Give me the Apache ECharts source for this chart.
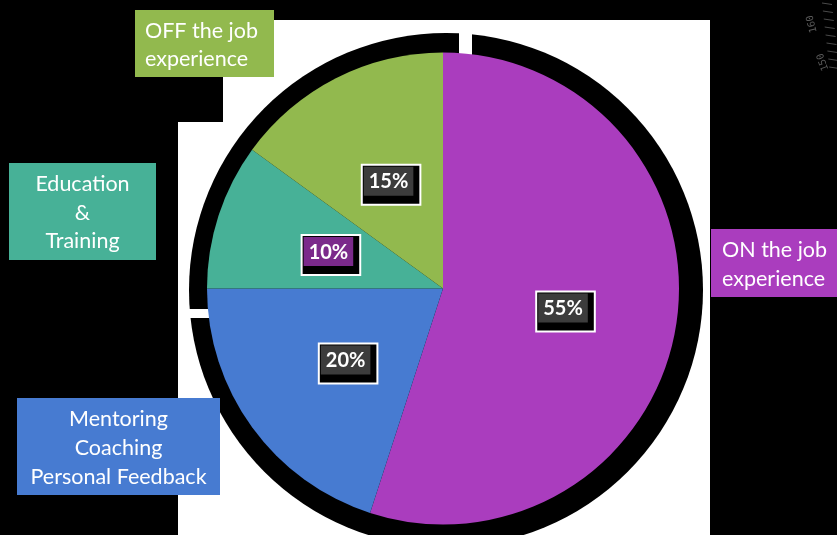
<!DOCTYPE html>
<html><head><meta charset="utf-8">
<script src="https://cdn.jsdelivr.net/npm/echarts/dist/echarts.min.js"></script>
<style>html,body{margin:0;padding:0;background:#000}#c{width:837px;height:535px}</style>
</head><body><div id="c"></div>
<script>
const categories = ['ON the job experience', 'Mentoring Coaching Personal Feedback', 'Education & Training', 'OFF the job experience'];
const values = [55, 20, 10, 15];
const boxLines = [['ON the job', 'experience'], ['Mentoring', 'Coaching', 'Personal Feedback'], ['Education', '&', 'Training'], ['OFF the job', 'experience']];
const sliceColors = ['#aa3dbe', '#477bd1', '#47b197', '#92b94e'];
const tagColors = ['#3c3c3c', '#3c3c3c', '#7b2a8b', '#3c3c3c'];
const rulerLabels = ['160', '150'];

const FONT = 'Lato, "Open Sans", sans-serif';
const chart = echarts.init(document.getElementById('c'), null, {renderer: 'canvas'});

function box(x, y, w, h, color, lines, align, tx, lh) {
  return [
    {type: 'rect', shape: {x: x, y: y, width: w, height: h}, style: {fill: color}, z: 5},
    {type: 'text', x: tx, y: y + h / 2 + 1.5, z: 6,
     style: {text: lines.join('\n'), fill: '#fff', font: '21.5px ' + FONT, align: align, verticalAlign: 'middle', lineHeight: lh}}
  ];
}

const graphics = [
  {type: 'polygon', z: 0, shape: {points: [[274,20],[710,20],[710,535],[178,535],[178,122],[223,122],[223,77],[274,77]]}, style: {fill: '#fff'}},
  {type: 'circle', z: 1, shape: {cx: 446, cy: 290, r: 257}, style: {fill: '#000'}},
  {type: 'rect', z: 1, shape: {x: 459, y: 24, width: 13, height: 32}, style: {fill: '#fff'}},
  {type: 'rect', z: 1, shape: {x: 183, y: 309, width: 28, height: 9}, style: {fill: '#fff'}},
  ...box(711, 229, 126, 68, sliceColors[0], boxLines[0], 'left', 722, 29),
  ...box(17, 398, 203, 97, sliceColors[1], boxLines[1], 'center', 118.5, 29),
  ...box(9, 163, 147, 97, sliceColors[2], boxLines[2], 'center', 82.5, 28.5),
  ...box(135, 10, 139, 67, sliceColors[3], boxLines[3], 'left', 145, 28),
  {type: 'text', x: 812, y: 24, rotation: Math.PI / 2 + 0.25, z: 6,
   style: {text: rulerLabels[0], fill: '#5a5a5a', font: '10px "DejaVu Sans Mono", monospace', align: 'center', verticalAlign: 'middle'}},
  {type: 'text', x: 823, y: 62, rotation: Math.PI / 2 + 0.35, z: 6,
   style: {text: rulerLabels[1], fill: '#5a5a5a', font: '10px "DejaVu Sans Mono", monospace', align: 'center', verticalAlign: 'middle'}}
];
for (let i = 0; i < 9; i++) {
  const y = 3 + i * 8;
  graphics.push({type: 'line', z: 6, shape: {x1: 822 + i * 0.9, y1: y, x2: 832 + i * 0.9, y2: y + 1.5}, style: {stroke: '#4a4a4a', lineWidth: 1}});
}

const option = {
  backgroundColor: '#000',
  animation: false,
  graphic: graphics,
  series: [{
    type: 'pie',
    center: [443, 288.5],
    radius: 236,
    startAngle: 90,
    clockwise: true,
    silent: true,
    z: 3,
    itemStyle: {borderWidth: 0},
    emphasis: {disabled: true},
    labelLine: {show: false},
    data: categories.map((name, i) => ({
      name: name, value: values[i],
      itemStyle: {color: sliceColors[i]},
      label: {rich: {t: {backgroundColor: tagColors[i], color: '#fff', fontWeight: 'bold', fontSize: 20, fontFamily: 'Lato, sans-serif', padding: [5, 5, 4, 5]}}}
    })),
    label: {
      show: true,
      position: 'inside',
      formatter: p => '{t|' + p.value + '%}',
      fontSize: 20,
      fontWeight: 'bold',
      color: '#fff',
      backgroundColor: '#000',
      borderColor: '#fff',
      borderWidth: 2,
      padding: [1, 6, 8, 1],
      offset: [3, 4]
    }
  }]
};
chart.setOption(option);
</script>
</body></html>
